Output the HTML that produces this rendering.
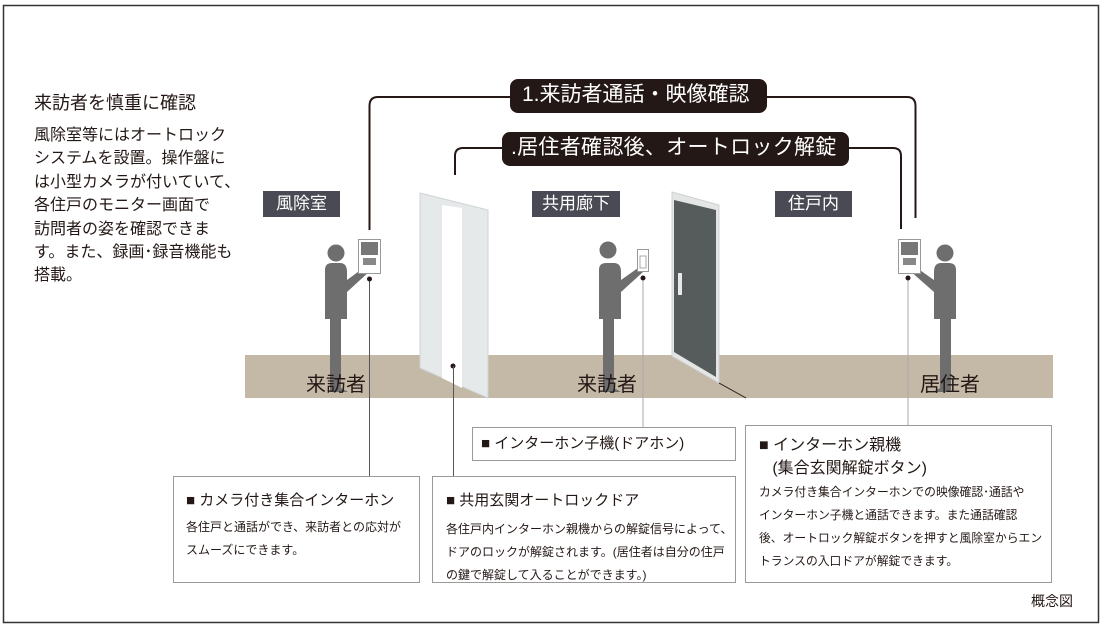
<!DOCTYPE html>
<html><head><meta charset="utf-8"><style>
*{margin:0;padding:0;box-sizing:border-box}
body{width:1107px;height:629px;background:#fff;position:relative;overflow:hidden;font-family:"Liberation Sans","Noto Sans CJK JP",sans-serif;color:#231815}
.a{position:absolute;white-space:nowrap}
.tag{position:absolute;background:#4a4a55;color:#fff;font-size:17px;line-height:26px;text-align:center}
.box{position:absolute;border:1px solid #9a9a9a;background:#fff}
.h{font-size:15px;line-height:22px;white-space:nowrap}
.t{font-size:12px;line-height:23px;white-space:nowrap}
</style></head><body>
<svg width="1107" height="629" style="position:absolute;left:0;top:0">
<rect x="3.5" y="5.5" width="1095" height="617" fill="none" stroke="#333" stroke-width="1.5"/>
<rect x="245" y="355" width="808" height="43" fill="#c4b8a6"/>
<path d="M369.5 230 V106 Q369.5 97 378 97 H907 Q915.5 97 915.5 106 V218" fill="none" stroke="#231815" stroke-width="2"/>
<path d="M455 175 V156 Q455 148 463 148 H893 Q901 148 901 156 V229" fill="none" stroke="#231815" stroke-width="2"/>
<rect x="510" y="79" width="257" height="34" rx="8" fill="#231815"/>
<rect x="502" y="132" width="347" height="34" rx="8" fill="#231815"/>
<polygon points="420,193 488,210 488,398 420,368" fill="#e6e9ea" stroke="#d0d4d5"/>
<polygon points="442,205 462,208 462,388 442,378" fill="#fff"/>
<circle cx="453" cy="366" r="2.5" fill="#231815"/>
<polygon points="672,192 719,205 719,383 672,356" fill="#e4e6e6" stroke="#cfd2d2"/>
<polygon points="674,200 716,210 716,377 674,352" fill="#565b5b"/>
<rect x="678" y="273" width="4" height="22" fill="#e8e8e8"/>
<line x1="719" y1="383" x2="746" y2="398" stroke="#231815" stroke-width="1"/>
<g fill="#6e6e6e">
<circle cx="336" cy="253" r="8.5"/>
<path d="M325 270 Q325 263 332 263 H340 Q347 263 347 272 L347 280 L366 266 L371 270 L347 292 V319 H325 Z"/>
<path d="M330 319 H341 V388 L348 392 H330 Z"/>
<circle cx="608" cy="250" r="8.5"/>
<path d="M599 270 Q599 263 606 263 H614 Q621 263 621 272 L621 280 L638 268 L643 272 L621 292 V319 H599 Z"/>
<path d="M603 319 H614 V388 L621 392 H603 Z"/>
<circle cx="945" cy="253" r="8.5"/>
<path d="M956 270 Q956 263 949 263 H941 Q934 263 934 272 L934 280 L914 266 L909 270 L934 292 V319 H956 Z"/>
<path d="M940 319 H951 V392 H933 L940 388 Z"/>
</g>
<rect x="358.5" y="239.5" width="22" height="34" fill="#fff" stroke="#999"/>
<rect x="361" y="242" width="17" height="13" fill="#777"/>
<rect x="363" y="258" width="13" height="7" fill="#888"/>
<rect x="637.5" y="249.5" width="11" height="22" fill="#fff" stroke="#999"/>
<rect x="640" y="256" width="6" height="12" fill="none" stroke="#aaa"/>
<rect x="898.5" y="239.5" width="22" height="34" fill="#fff" stroke="#999"/>
<rect x="901" y="242" width="17" height="13" fill="#777"/>
<rect x="903" y="258" width="13" height="7" fill="#888"/>
<g stroke="#555" stroke-width="1">
<line x1="369.5" y1="279" x2="369.5" y2="476"/>
<line x1="453.5" y1="366" x2="453.5" y2="476"/>
<line x1="643" y1="278" x2="643" y2="427" stroke="#aaa"/>
<line x1="908" y1="278" x2="908" y2="425" stroke="#aaa"/>
</g>
<circle cx="369.5" cy="279" r="2.5" fill="#231815"/>
<circle cx="643" cy="278" r="2.5" fill="#231815"/>
<circle cx="908" cy="278" r="2.5" fill="#231815"/>
</svg>

<div class="a" style="left:522px;top:81px;font-size:21px;line-height:28px;color:#fff">1.来訪者通話・映像確認</div>
<div class="a" style="left:511px;top:134px;font-size:21px;line-height:28px;color:#fff;letter-spacing:0.3px">.居住者確認後、オートロック解錠</div>

<div class="tag" style="left:263px;top:191px;width:77px">風除室</div>
<div class="tag" style="left:532px;top:191px;width:88px">共用廊下</div>
<div class="tag" style="left:775px;top:191px;width:77px">住戸内</div>

<div class="a" style="left:306px;top:372px;font-size:20px;line-height:26px">来訪者</div>
<div class="a" style="left:577px;top:372px;font-size:20px;line-height:26px">来訪者</div>
<div class="a" style="left:920px;top:372px;font-size:20px;line-height:26px">居住者</div>

<div class="a" style="left:34px;top:91px;font-size:18px;line-height:24px">来訪者を慎重に確認</div>
<div class="a" style="left:34px;top:124px;font-size:16px;line-height:23.4px">風除室等にはオートロック<br>システムを設置。操作盤に<br>は小型カメラが付いていて、<br>各住戸のモニター画面で<br>訪問者の姿を確認できま<br>す。また、録画･録音機能も<br>搭載。</div>

<div class="box" style="left:173px;top:476px;width:247px;height:107px">
<div class="h" style="position:absolute;left:12px;top:13px">■ カメラ付き集合インターホン</div>
<div class="t" style="position:absolute;left:12px;top:39px">各住戸と通話ができ、来訪者との応対が<br>スムーズにできます。</div>
</div>
<div class="box" style="left:432px;top:476px;width:304px;height:107px">
<div class="h" style="position:absolute;left:13px;top:13px">■ 共用玄関オートロックドア</div>
<div class="t" style="position:absolute;left:13px;top:41px">各住戸内インターホン親機からの解錠信号によって、<br>ドアのロックが解錠されます。(居住者は自分の住戸<br>の鍵で解錠して入ることができます。)</div>
</div>
<div class="box" style="left:472px;top:427px;width:264px;height:34px">
<div class="h" style="position:absolute;left:8px;top:5px">■ インターホン子機(ドアホン)</div>
</div>
<div class="box" style="left:745px;top:425px;width:307px;height:158px">
<div class="h" style="position:absolute;left:13px;top:8px;font-size:16px;line-height:23px">■ インターホン親機<br>&nbsp;&nbsp;&nbsp;(集合玄関解錠ボタン)</div>
<div class="t" style="position:absolute;left:13px;top:55px;font-size:11.8px">カメラ付き集合インターホンでの映像確認･通話や<br>インターホン子機と通話できます。また通話確認<br>後、オートロック解錠ボタンを押すと風除室からエン<br>トランスの入口ドアが解錠できます。</div>
</div>

<div class="a" style="left:1031px;top:591px;font-size:14px;line-height:20px">概念図</div>
</body></html>
